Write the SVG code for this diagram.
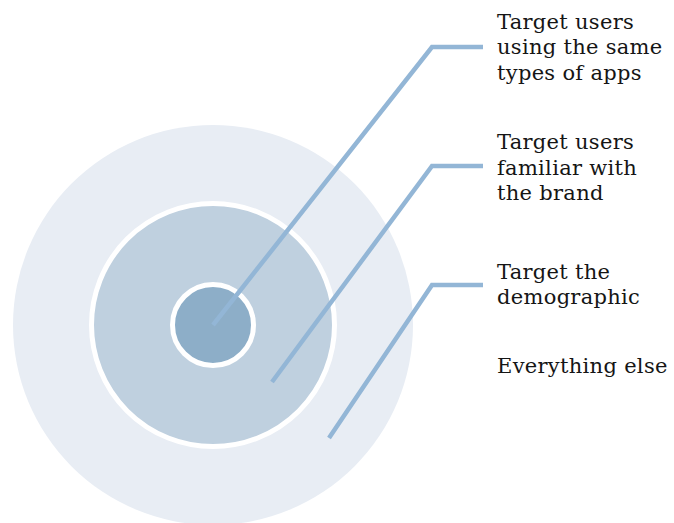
<svg xmlns="http://www.w3.org/2000/svg" width="674" height="523" viewBox="0 0 674 523">
<style>
.lbl{font-family:"DejaVu Serif","Liberation Serif",serif;font-size:21px;letter-spacing:0.3px;fill:#151515}
.ring{stroke:#ffffff;stroke-width:5}
.conn{fill:none;stroke:#93b6d6;stroke-width:4.5;stroke-linejoin:miter}
</style>
<rect width="674" height="523" fill="#ffffff"/>
<g id="outer"><circle cx="213" cy="325" r="200" fill="#e8edf4"/></g>
<g id="middle"><circle class="ring" cx="213" cy="325" r="121.5" fill="#bfd0df"/></g>
<g id="inner"><circle class="ring" cx="213" cy="325" r="40.5" fill="#8daec8"/></g>
<g id="connectors">
<polyline class="conn" points="213,325 432,47 483,47"/>
<polyline class="conn" points="272,382 432,166 483,166"/>
<polyline class="conn" points="329,438 432,285 483,285"/>
</g>
<g id="label1"><text class="lbl" x="497" y="29">Target users</text><text class="lbl" x="497" y="54">using the same</text><text class="lbl" x="497" y="80">types of apps</text></g>
<g id="label2"><text class="lbl" x="497" y="149">Target users</text><text class="lbl" x="497" y="175">familiar with</text><text class="lbl" x="497" y="200">the brand</text></g>
<g id="label3"><text class="lbl" x="497" y="279">Target the</text><text class="lbl" x="497" y="304">demographic</text></g>
<g id="label4"><text class="lbl" x="497" y="373">Everything else</text></g>
</svg>
